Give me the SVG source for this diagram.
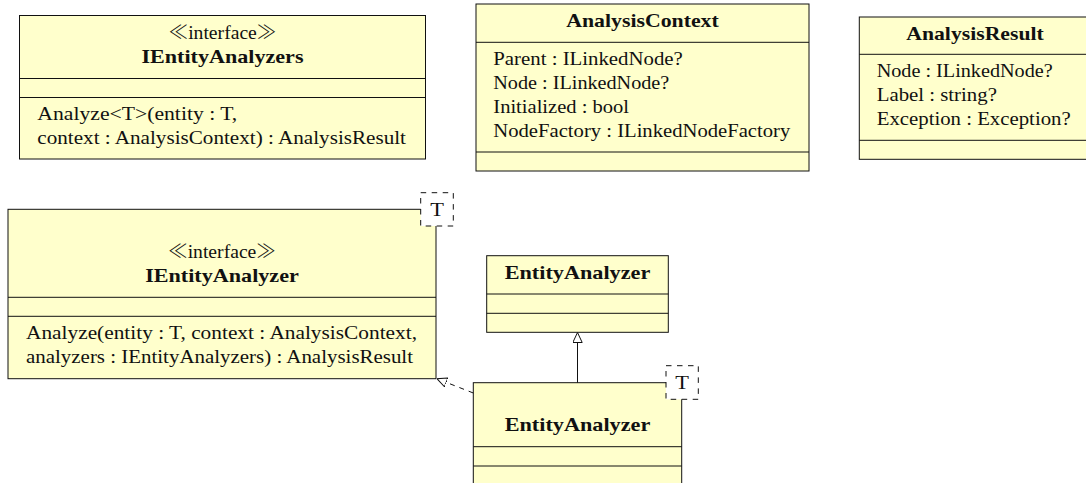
<svg xmlns="http://www.w3.org/2000/svg" width="1086" height="483" viewBox="0 0 1086 483">
  <style>
    .box { fill: #FFFFCC; stroke: #111; stroke-width: 1; }
    .sep { stroke: #111; stroke-width: 1; }
    .tpl { fill: #FFFFFF; stroke: #111; stroke-width: 1; stroke-dasharray: 5.5 5.5; }
    .t { font-family: "Liberation Serif", "DejaVu Serif", serif; font-size: 19px; fill: #111; }
    .b { font-weight: bold; }
    .c { text-anchor: middle; }
    .g { font-family: "Noto Sans CJK JP", "DejaVu Sans", sans-serif; font-weight: 300; }
    .edge { fill: none; stroke: #111; stroke-width: 1; }
    .dashed { stroke-dasharray: 5 5; }
  </style>
  <defs>
    <!-- hollow triangle head used for generalization and realization -->
    <marker id="hollow" viewBox="0 0 10 10" refX="10" refY="5" markerWidth="10" markerHeight="10" markerUnits="userSpaceOnUse" orient="auto">
      <path d="M0,0.3 L10,5 L0,9.7 Z" fill="#FFFFFF" stroke="#111" stroke-width="1" stroke-dasharray="none"/>
    </marker>
  </defs>

  <!-- interface IEntityAnalyzers -->
  <g id="IEntityAnalyzers">
    <rect class="box" x="19.5" y="15.5" width="406" height="143.5"/>
    <line class="sep" x1="19.5" y1="78.5" x2="425.5" y2="78.5"/>
    <line class="sep" x1="19.5" y1="97.5" x2="425.5" y2="97.5"/>
    <text class="t c" x="222.5" y="39.4" textLength="108" lengthAdjust="spacingAndGlyphs"><tspan class="g">≪</tspan>interface<tspan class="g">≫</tspan></text>
    <text class="t c b" x="222.5" y="63.2" textLength="162" lengthAdjust="spacingAndGlyphs">IEntityAnalyzers</text>
    <text class="t" x="37.3" y="120.3" textLength="200" lengthAdjust="spacingAndGlyphs">Analyze&lt;T&gt;(entity : T,</text>
    <text class="t" x="37.3" y="143.9" textLength="368.7" lengthAdjust="spacingAndGlyphs">context : AnalysisContext) : AnalysisResult</text>
  </g>

  <!-- class AnalysisContext -->
  <g id="AnalysisContext">
    <rect class="box" x="476" y="4" width="333" height="167"/>
    <line class="sep" x1="476" y1="42.3" x2="809" y2="42.3"/>
    <line class="sep" x1="476" y1="152" x2="809" y2="152"/>
    <text class="t c b" x="642.5" y="26.8" textLength="152.6" lengthAdjust="spacingAndGlyphs">AnalysisContext</text>
    <text class="t" x="493.3" y="65.1" textLength="189.5" lengthAdjust="spacingAndGlyphs">Parent : ILinkedNode?</text>
    <text class="t" x="493.3" y="88.9" textLength="176" lengthAdjust="spacingAndGlyphs">Node : ILinkedNode?</text>
    <text class="t" x="493.3" y="112.7" textLength="135.7" lengthAdjust="spacingAndGlyphs">Initialized : bool</text>
    <text class="t" x="493.3" y="136.5" textLength="297" lengthAdjust="spacingAndGlyphs">NodeFactory : ILinkedNodeFactory</text>
  </g>

  <!-- class AnalysisResult -->
  <g id="AnalysisResult">
    <rect class="box" x="859.3" y="17" width="230" height="142.3"/>
    <line class="sep" x1="859.3" y1="54.3" x2="1089.3" y2="54.3"/>
    <line class="sep" x1="859.3" y1="140.3" x2="1089.3" y2="140.3"/>
    <text class="t c b" x="975" y="39.8" textLength="137.4" lengthAdjust="spacingAndGlyphs">AnalysisResult</text>
    <text class="t" x="876.7" y="77.1" textLength="176" lengthAdjust="spacingAndGlyphs">Node : ILinkedNode?</text>
    <text class="t" x="876.7" y="100.9" textLength="120.2" lengthAdjust="spacingAndGlyphs">Label : string?</text>
    <text class="t" x="876.7" y="124.7" textLength="194" lengthAdjust="spacingAndGlyphs">Exception : Exception?</text>
  </g>

  <!-- generic interface IEntityAnalyzer<T> -->
  <g id="IEntityAnalyzer">
    <rect class="box" x="8" y="209.3" width="428" height="169.4"/>
    <line class="sep" x1="8" y1="297.3" x2="436" y2="297.3"/>
    <line class="sep" x1="8" y1="316.3" x2="436" y2="316.3"/>
    <text class="t c" x="222" y="258" textLength="108" lengthAdjust="spacingAndGlyphs"><tspan class="g">≪</tspan>interface<tspan class="g">≫</tspan></text>
    <text class="t c b" x="222" y="281.8" textLength="153.7" lengthAdjust="spacingAndGlyphs">IEntityAnalyzer</text>
    <text class="t" x="26" y="339.1" textLength="391" lengthAdjust="spacingAndGlyphs">Analyze(entity : T, context : AnalysisContext,</text>
    <text class="t" x="26" y="362.9" textLength="387" lengthAdjust="spacingAndGlyphs">analyzers : IEntityAnalyzers) : AnalysisResult</text>
    <rect class="tpl" x="420.7" y="192.7" width="32.6" height="33.3"/>
    <text class="t c" x="437" y="216" textLength="13.7" lengthAdjust="spacingAndGlyphs">T</text>
  </g>

  <!-- base class EntityAnalyzer -->
  <g id="EntityAnalyzerBase">
    <rect class="box" x="486.7" y="255.7" width="181.6" height="76.6"/>
    <line class="sep" x1="486.7" y1="294" x2="668.3" y2="294"/>
    <line class="sep" x1="486.7" y1="313.3" x2="668.3" y2="313.3"/>
    <text class="t c b" x="577.5" y="278.5" textLength="145.7" lengthAdjust="spacingAndGlyphs">EntityAnalyzer</text>
  </g>

  <!-- generic class EntityAnalyzer<T> -->
  <g id="EntityAnalyzerGeneric">
    <rect class="box" x="473.3" y="382.7" width="208.4" height="103"/>
    <line class="sep" x1="473.3" y1="446.7" x2="681.7" y2="446.7"/>
    <line class="sep" x1="473.3" y1="466" x2="681.7" y2="466"/>
    <text class="t c b" x="577.5" y="431.2" textLength="145.7" lengthAdjust="spacingAndGlyphs">EntityAnalyzer</text>
    <rect class="tpl" x="666" y="365.7" width="32.3" height="33.6"/>
    <text class="t c" x="682.2" y="389.2" textLength="13.7" lengthAdjust="spacingAndGlyphs">T</text>
  </g>

  <!-- relations -->
  <g id="connectors">
    <path class="edge" d="M577.5,382.7 L577.5,332.5" marker-end="url(#hollow)"/>
    <path class="edge dashed" d="M473.3,393 L436.9,378.7" marker-end="url(#hollow)"/>
  </g>
</svg>
